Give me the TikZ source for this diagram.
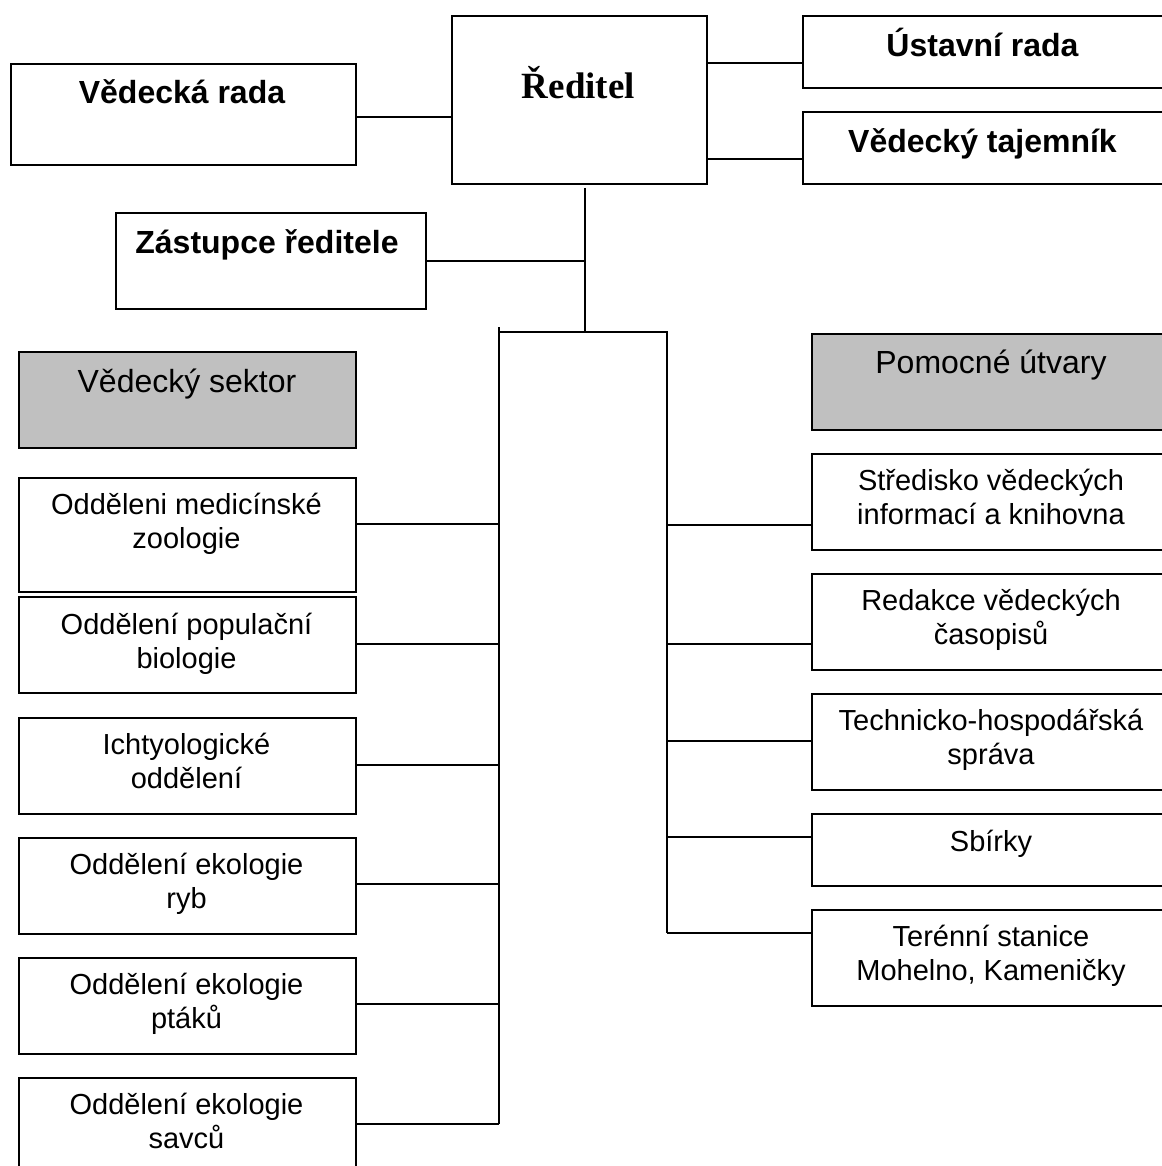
\documentclass[tikz,border=0pt]{standalone}
\usepackage{fontspec}
\setmainfont{Liberation Sans}
\newfontfamily\serifbold{Liberation Serif}
\definecolor{hdrgray}{RGB}{192,192,192}
\begin{document}
\begin{tikzpicture}[x=1pt,y=-1pt,
  box/.style={draw=black, line width=1.8pt, fill=white, inner sep=0pt, anchor=north west},
  hdr/.style={box, fill=hdrgray},
  conn/.style={draw=black, line width=1.8pt},
  boldtxt/.style={anchor=base, inner sep=0pt, font=\fontsize{32}{38}\selectfont\bfseries},
  hdrtxt/.style={anchor=base, inner sep=0pt, font=\fontsize{32}{38}\selectfont},
  boxtxt/.style={anchor=base, inner sep=0pt, align=center, font=\fontsize{29}{34}\selectfont}]
\useasboundingbox (0,0) rectangle (1161,1166);
\fill[white] (0,0) rectangle (1161,1166);
% top level boxes
\node[box, minimum width=345pt, minimum height=101pt] (vr) at (10,63) {};
\node[box, minimum width=255pt, minimum height=168pt] (red) at (451,15) {};
\node[box, minimum width=310pt, minimum height=96pt] (zr) at (115,212) {};
\node[box, minimum width=362pt, minimum height=72pt] (ust) at (802,15) {};
\node[box, minimum width=362pt, minimum height=72pt] (taj) at (802,111) {};
% sector headers
\node[hdr, minimum width=337pt, minimum height=96pt] (vs) at (18,351) {};
\node[hdr, minimum width=362pt, minimum height=96pt] (po) at (811,333) {};
% left departments
\node[box, minimum width=337pt, minimum height=114pt] (m1) at (18,477) {};
\node[box, minimum width=337pt, minimum height=96pt] (m2) at (18,596) {};
\node[box, minimum width=337pt, minimum height=96pt] (m3) at (18,717) {};
\node[box, minimum width=337pt, minimum height=96pt] (m4) at (18,837) {};
\node[box, minimum width=337pt, minimum height=96pt] (m5) at (18,957) {};
\node[box, minimum width=337pt, minimum height=100pt] (m6) at (18,1077) {};
% right units
\node[box, minimum width=362pt, minimum height=96pt] (r1) at (811,453) {};
\node[box, minimum width=362pt, minimum height=96pt] (r2) at (811,573) {};
\node[box, minimum width=362pt, minimum height=96pt] (r3) at (811,693) {};
\node[box, minimum width=362pt, minimum height=72pt] (r4) at (811,813) {};
\node[box, minimum width=362pt, minimum height=96pt] (r5) at (811,909) {};
% texts (multi-line: base anchor = baseline of last line)
\node[boldtxt] (vrt) at (182,104) {Vědecká rada};
\node[anchor=base, inner sep=0pt, font=\fontsize{37}{44}\selectfont\serifbold\bfseries] (redt) at (578.5,99) {Ředitel};
\node[boldtxt] (zrt) at (267,253) {Zástupce ředitele};
\node[boldtxt] (ustt) at (982.5,57) {Ústavní rada};
\node[boldtxt] (tajt) at (982.5,153) {Vědecký tajemník};
\node[hdrtxt] (vst) at (187,392) {Vědecký sektor};
\node[hdrtxt] (pot) at (991,373) {Pomocné útvary};
\node[boxtxt] (m1t) at (186.5,548) {Odděleni medicínské\\zoologie};
\node[boxtxt] (m2t) at (186.5,668) {Oddělení populační\\biologie};
\node[boxtxt] (m3t) at (186.5,788) {Ichtyologické\\oddělení};
\node[boxtxt] (m4t) at (186.5,908) {Oddělení ekologie\\ryb};
\node[boxtxt] (m5t) at (186.5,1028) {Oddělení ekologie\\ptáků};
\node[boxtxt] (m6t) at (186.5,1148) {Oddělení ekologie\\savců};
\node[boxtxt] (r1t) at (991,524) {Středisko vědeckých\\informací a knihovna};
\node[boxtxt] (r2t) at (991,644) {Redakce vědeckých\\časopisů};
\node[boxtxt] (r3t) at (991,764) {Technicko-hospodářská\\správa};
\node[boxtxt] (r4t) at (991,851) {Sbírky};
\node[boxtxt] (r5t) at (991,980) {Terénní stanice\\Mohelno, Kameničky};
% trunk coordinates
\coordinate (top) at (585,188);
\coordinate (mid) at (585,332);
\coordinate (L0) at (499,327);
\coordinate (Lb) at (499,1124);
\coordinate (R0) at (667,332);
\coordinate (Rb) at (667,933);
% connectors
\draw[conn] (vr.east |- 0,117) -- (red.west |- 0,117);
\draw[conn] (red.east |- 0,63) -- (ust.west |- 0,63);
\draw[conn] (red.east |- 0,159) -- (taj.west |- 0,159);
\draw[conn] (top) -- (mid);
\draw[conn] (zr.east |- 0,261) -- (top |- 0,261);
\draw[conn] (L0 |- mid) -- (R0) -- (Rb);
\draw[conn] (L0) -- (Lb);
\draw[conn] (m1.east |- 0,524) -- (L0 |- 0,524);
\draw[conn] (m2.east |- 0,644) -- (L0 |- 0,644);
\draw[conn] (m3.east |- 0,765) -- (L0 |- 0,765);
\draw[conn] (m4.east |- 0,884) -- (L0 |- 0,884);
\draw[conn] (m5.east |- 0,1004) -- (L0 |- 0,1004);
\draw[conn] (m6.east |- 0,1124) -- (Lb);
\draw[conn] (R0 |- 0,525) -- (r1.west |- 0,525);
\draw[conn] (R0 |- 0,644) -- (r2.west |- 0,644);
\draw[conn] (R0 |- 0,741) -- (r3.west |- 0,741);
\draw[conn] (R0 |- 0,837) -- (r4.west |- 0,837);
\draw[conn] (Rb) -- (r5.west |- 0,933);
\end{tikzpicture}
\end{document}
